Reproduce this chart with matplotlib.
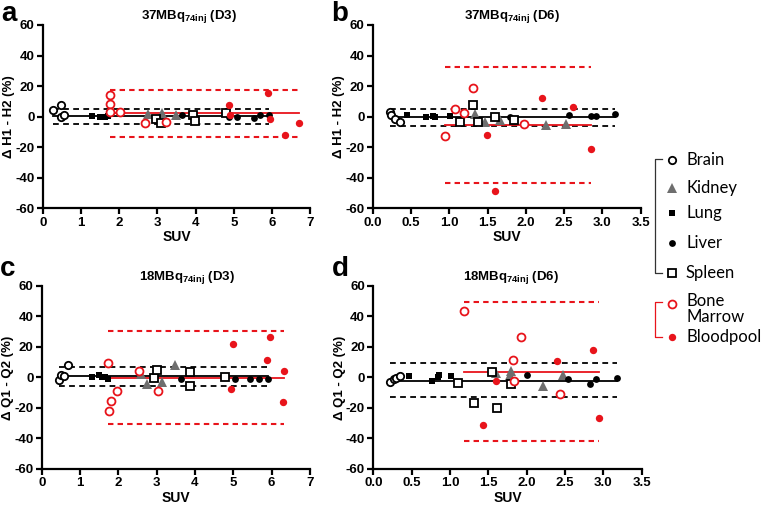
import matplotlib
matplotlib.use("Agg")
import matplotlib.pyplot as plt
from matplotlib.lines import Line2D

# ---------------- datos (SUV, diferencia %) ----------------
# panel a: 37MBq (D3)
a_brain = ([0.26, 0.47, 0.47, 0.56], [4.2, 7.9, 0.0, 0.8])
a_kidney = ([2.74, 3.11, 3.48], [2.0, 2.5, 1.2])
a_lung = ([1.28, 1.50, 1.57, 1.63, 1.70], [0.3, -0.1, 0.0, 0.1, 0.2])
a_liver = ([3.65, 4.87, 5.07, 5.52, 5.69, 5.92], [1.4, -0.5, 0.1, -1.1, 1.0, 1.3])
a_spleen = ([2.95, 3.08, 3.92, 3.97, 4.79], [-1.2, -4.4, 1.4, -2.9, 2.4])
a_marrow = ([1.77, 1.77, 1.77, 2.02, 2.68, 3.22], [14.2, 8.3, 2.8, 2.8, -3.9, -3.4])
a_blood = ([4.87, 4.89, 5.90, 5.95, 6.33, 6.69], [7.8, 0.8, 15.2, -1.5, -12.0, -4.1])
a_black = [0.2, 5.0, -4.6]     # sesgo, limite sup, limite inf
a_red = [2.2, 17.7, -13.3]

# panel b: 37MBq (D6)
b_brain = ([0.22, 0.24, 0.29, 0.36], [3.0, 0.8, -1.8, -3.7])
b_kidney = ([1.33, 1.46, 1.66, 2.26, 2.52], [1.9, -3.8, -1.9, -5.7, -4.5])
b_lung = ([0.45, 0.70, 0.79, 0.81, 1.01], [1.0, -0.2, 0.3, -0.4, 0.6])
b_liver = ([1.79, 2.56, 2.85, 2.91, 3.16], [-0.4, 1.2, 0.5, 0.5, 1.7])
b_spleen = ([1.14, 1.31, 1.38, 1.60, 1.85], [-3.5, 7.6, -3.7, -0.4, -2.1])
b_marrow = ([0.94, 1.08, 1.19, 1.31, 1.97], [-12.9, 5.1, 2.2, 18.6, -4.5])
b_blood = ([1.49, 1.59, 2.21, 2.62, 2.85], [-11.8, -48.4, 12.5, 6.5, -21.2])
b_black = [-0.5, 5.0, -6.2]
b_red = [-5.5, 32.7, -43.6]

# panel c: 18MBq (D3)
c_brain = ([0.45, 0.50, 0.57, 0.69], [-1.7, 1.4, 1.0, 8.2])
c_kidney = ([2.59, 2.74, 3.13, 3.47], [2.3, -4.6, -3.0, 8.4])
c_lung = ([1.30, 1.50, 1.57, 1.66, 1.72], [0.1, 1.4, 0.5, 0.0, -0.8])
c_liver = ([3.63, 5.05, 5.44, 5.68, 5.91], [-1.3, -0.8, -1.2, -0.8, -1.0])
c_spleen = ([2.93, 3.02, 3.86, 3.86, 4.78], [-0.1, 5.0, 3.3, -5.5, 0.2])
c_marrow = ([1.73, 1.75, 1.80, 1.97, 2.55, 3.04], [9.3, -22.0, -15.3, -8.6, 4.1, -8.9])
c_blood = ([4.93, 4.98, 5.87, 5.96, 6.29, 6.33], [-7.8, 22.1, 11.5, 26.3, -16.1, 4.5])
c_black = [0.8, 7.1, -5.6]
c_red = [-0.3, 30.5, -30.3]

# panel d: 18MBq (D6)
d_brain = ([0.22, 0.27, 0.30, 0.35], [-2.8, -1.2, -0.3, 1.0])
d_kidney = ([1.60, 1.78, 1.79, 2.21, 2.47], [3.0, 1.8, 4.3, -5.6, 1.4])
d_lung = ([0.47, 0.76, 0.84, 0.86, 1.01], [1.2, -2.2, 0.0, 1.9, 0.7])
d_liver = ([2.01, 2.54, 2.83, 2.90, 3.18], [1.6, -0.8, -4.5, -1.0, -0.3])
d_spleen = ([1.10, 1.31, 1.55, 1.61, 1.80], [-3.9, -16.5, 3.5, -20.0, -4.6])
d_marrow = ([1.18, 1.82, 1.83, 1.92, 2.43], [43.6, 11.7, -2.5, 26.3, -10.6])
d_blood = ([1.43, 1.60, 2.40, 2.87, 2.95], [-31.0, -2.5, 11.0, 18.0, -26.8])
d_black = [-2.1, 9.7, -12.8]
d_red = [3.8, 49.3, -41.7]

organs = ["Brain", "Kidney", "Lung", "Liver", "Spleen", "Bone\nMarrow", "Bloodpool"]
y_ticks = [-60, -40, -20, 0, 20, 40, 60]

RED = "#e8141b"
GRAY = "#6e6e6e"
estilos = [
    dict(marker="o", ms=5.3, mfc="white", mec="black", mew=1.3),
    dict(marker="^", ms=6.8, mfc=GRAY, mec=GRAY, mew=0),
    dict(marker="s", ms=4.8, mfc="black", mec="black", mew=0),
    dict(marker="o", ms=4.9, mfc="black", mec="black", mew=0),
    dict(marker="s", ms=5.4, mfc="white", mec="black", mew=1.3),
    dict(marker="o", ms=5.7, mfc="white", mec=RED, mew=1.3),
    dict(marker="o", ms=5.3, mfc=RED, mec=RED, mew=0),
]

plt.rcParams["font.family"] = ["Liberation Sans", "DejaVu Sans"]
plt.rcParams["font.weight"] = "bold"
plt.rcParams["axes.unicode_minus"] = False
plt.rcParams["mathtext.fontset"] = "custom"
plt.rcParams["mathtext.rm"] = "Liberation Sans:bold"
plt.rcParams["mathtext.it"] = "Liberation Sans:bold"
plt.rcParams["mathtext.bf"] = "Liberation Sans:bold"

fig = plt.figure(figsize=(7.67, 5.07), dpi=100)


def panel(rect, grupos, black, red, xmax, xstep, titulo, tx_pos, ylab, letra, letra_y):
    ax = fig.add_axes(rect)
    negros = grupos[:5]
    rojos = grupos[5:]
    bx = [x for g in negros for x in g[0]]
    rx = [x for g in rojos for x in g[0]]
    x0, x1 = min(bx), max(bx)
    ax.plot([x0, x1], [black[0]] * 2, color="black", lw=1.3, zorder=2)
    for v in black[1:]:
        ax.plot([x0, x1], [v] * 2, color="black", lw=1.3, ls=(0, (3.2, 2.4)), zorder=2)
    r0, r1 = min(rx), max(rx)
    ax.plot([r0, r1], [red[0]] * 2, color=RED, lw=1.3, zorder=2)
    for v in red[1:]:
        ax.plot([r0, r1], [v] * 2, color=RED, lw=1.5, ls=(0, (2.6, 2.0)), zorder=2)
    for (xs, ys), st in zip(grupos, estilos):
        ax.plot(xs, ys, ls="none", zorder=3, **st)

    ax.set_xlim(0, xmax)
    ax.set_ylim(-60, 60)
    ax.set_yticks(y_ticks)
    n = int(round(xmax / xstep))
    xt = [i * xstep for i in range(n + 1)]
    ax.set_xticks(xt)
    if xstep < 1:
        ax.set_xticklabels([f"{t:.1f}" for t in xt])
    for s in ["top", "right"]:
        ax.spines[s].set_visible(False)
    for s in ["left", "bottom"]:
        ax.spines[s].set_linewidth(1.6)
    ax.tick_params(width=1.6, length=4, labelsize=9.5, pad=2)
    for lb in ax.get_xticklabels() + ax.get_yticklabels():
        lb.set_fontweight("bold")
    ax.set_xlabel("SUV", fontsize=10, fontweight="bold", labelpad=1)
    ax.set_ylabel(ylab, fontsize=9.5, fontweight="bold")
    ax.yaxis.set_label_coords(-0.103, 0.5)
    ax.set_title(titulo, fontsize=9.5, fontweight="bold", pad=0.5, x=tx_pos)
    pos = ax.get_position()
    fig.text(pos.x0 - 0.054, 1 - letra_y / 507.0, letra, fontsize=20, fontweight="bold",
             ha="left", va="top")
    return ax


panel([0.0557, 0.589, 0.349, 0.3617],
      [a_brain, a_kidney, a_lung, a_liver, a_spleen, a_marrow, a_blood],
      a_black, a_red, 7, 1, r"37MBq$_{74inj}$ (D3)", 0.546, "Δ H1 - H2 (%)", "a", 1)
panel([0.486, 0.589, 0.3494, 0.3617],
      [b_brain, b_kidney, b_lung, b_liver, b_spleen, b_marrow, b_blood],
      b_black, b_red, 3.5, 0.5, r"37MBq$_{74inj}$ (D6)", 0.519, "Δ H1 - H2 (%)", "b", 1)
panel([0.0544, 0.075, 0.3497, 0.361],
      [c_brain, c_kidney, c_lung, c_liver, c_spleen, c_marrow, c_blood],
      c_black, c_red, 7, 1, r"18MBq$_{74inj}$ (D3)", 0.542, "Δ Q1 - Q2 (%)", "c", 256)
panel([0.4867, 0.075, 0.3499, 0.361],
      [d_brain, d_kidney, d_lung, d_liver, d_spleen, d_marrow, d_blood],
      d_black, d_red, 3.5, 0.5, r"18MBq$_{74inj}$ (D6)", 0.511, "Δ Q1 - Q2 (%)", "d", 256)

# ---------------- leyenda con corchetes ----------------
W, H = 767.0, 507.0
ley_y = [160, 188, 213, 243, 273, 304, 337]
txt_y = [160, 188, 213, 243, 273, 309, 337]
mx, tx = 672, 686
for nombre, st, yy, ty in zip(organs, estilos, ley_y, txt_y):
    fig.add_artist(Line2D([mx / W], [1 - yy / H], ls="none", **st))
    fig.text(tx / W, 1 - ty / H, nombre, fontsize=12, family=["Lato", "DejaVu Sans"],
             fontweight="normal", va="center", ha="left", linespacing=0.95)

bk = dict(color="#333333", lw=0.9)
fig.add_artist(Line2D([662 / W, 655 / W, 655 / W, 662 / W],
                      [1 - 159 / H, 1 - 159 / H, 1 - 273 / H, 1 - 273 / H], **bk))
fig.add_artist(Line2D([662 / W, 655 / W, 655 / W, 662 / W],
                      [1 - 302 / H, 1 - 302 / H, 1 - 337 / H, 1 - 337 / H],
                      color=RED, lw=0.9))

plt.savefig("out.png", dpi=100)
